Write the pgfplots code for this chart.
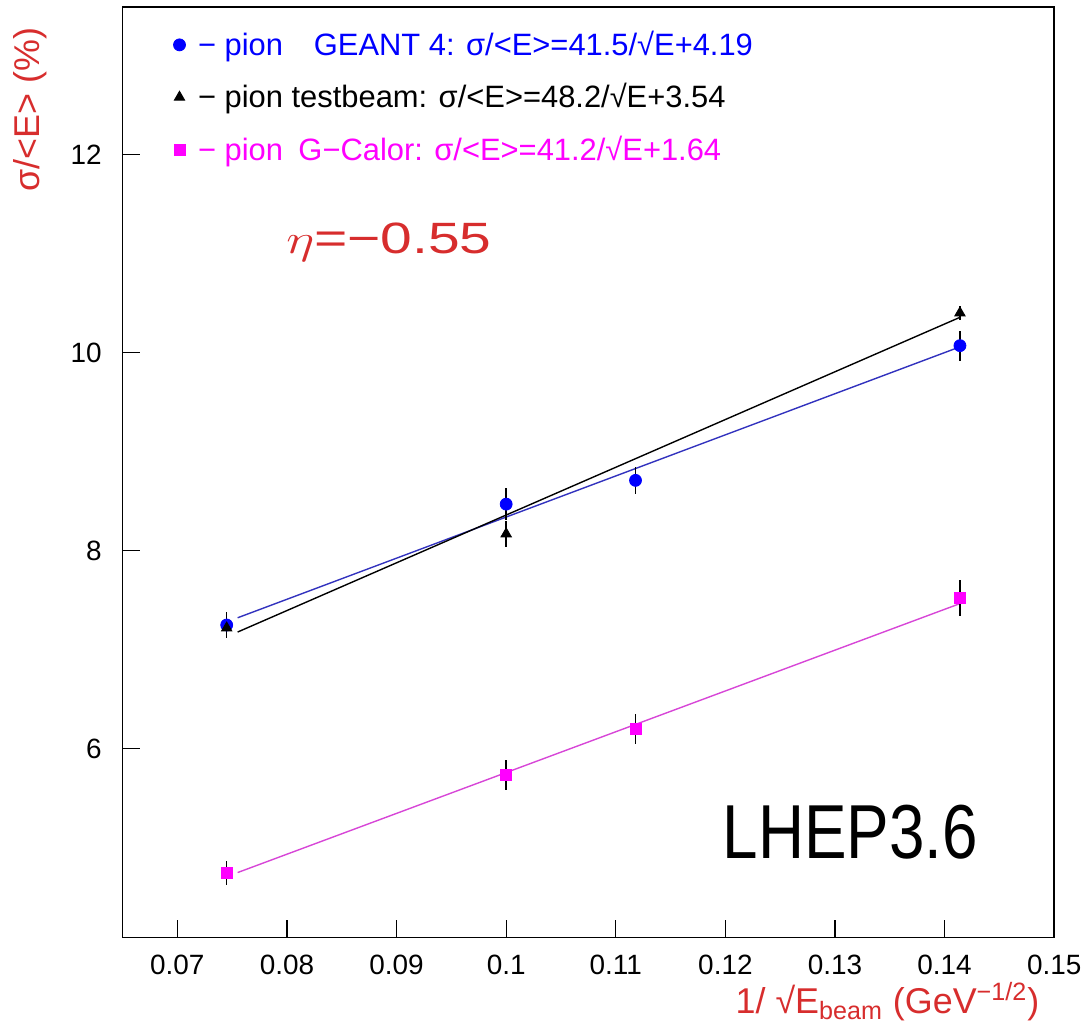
\documentclass[border=0pt]{standalone}
\usepackage{pgfplots}
\pgfplotsset{compat=1.18}
\usepackage{fontspec}
\setmainfont{Liberation Sans}
\definecolor{myred}{RGB}{215,45,45}
\definecolor{fitblue}{RGB}{50,50,190}
\definecolor{mymag}{RGB}{255,0,255}
\definecolor{fitmag}{RGB}{215,70,215}
\begin{document}
\begin{tikzpicture}
\begin{axis}[
  scale only axis, width=467.5pt, height=467pt,
  xmin=0.065, xmax=0.15, ymin=4.094, ymax=13.489,
  axis line style={line width=0.75pt},
  tick align=inside, tick pos=left,
  xtick={0.07,0.08,0.09,0.1,0.11,0.12,0.13,0.14,0.15},
  xticklabels={0.07,0.08,0.09,0.1,0.11,0.12,0.13,0.14,0.15},
  ytick={6,8,10,12},
  major tick length=9pt,
  tick style={black, line width=0.6pt},
  ticklabel style={font=\fontsize{14}{16}\selectfont},
  /pgf/number format/assume math mode=true,
  xticklabel style={yshift=-5pt},
  yticklabel style={xshift=-7pt},
  xlabel={1/ √E\textsubscript{beam} (GeV\textsuperscript{−1/2})},
  xlabel style={at={(axis description cs:1,0)}, anchor=east, xshift=-4pt, yshift=-32pt, text=myred, font=\fontsize{18}{20}\selectfont},
  ylabel={σ/<E> (\%)},
  ylabel style={at={(axis description cs:-0.0995,0.89)}, anchor=center, text=myred, font=\fontsize{18}{20}\selectfont},
  legend style={at={(axis description cs:0.05,0.983)}, anchor=north west, draw=none, fill=none,
    font=\fontsize{15.5}{17}\selectfont, row sep=8.5pt, inner sep=2pt},
  legend cell align=left,
  clip=false,
]
% fit lines
\addplot[fitblue, line width=0.7pt, forget plot] coordinates {(0.0755,7.323) (0.1414,10.058)};
\addplot[black, line width=0.7pt, forget plot] coordinates {(0.0755,7.179) (0.1414,10.356)};
\addplot[fitmag, line width=0.7pt, forget plot] coordinates {(0.0755,4.751) (0.1414,7.466)};
% data
\addplot[only marks, mark=*, mark size=3pt, color=blue,
  error bars/.cd, y dir=both, y explicit, error mark=none, error bar style={black, line width=0.8pt}]
  coordinates {(0.0745,7.25) +- (0,0.13) (0.1,8.47) +- (0,0.16) (0.1118,8.71) +- (0,0.135) (0.1414,10.07) +- (0,0.15)};
\addlegendentry{\textcolor{blue}{\ − pion\quad GEANT 4: σ/<E>=41.5/√E+4.19}}
\addplot[only marks, mark=triangle*, mark size=3pt, color=black,
  error bars/.cd, y dir=both, y explicit, error mark=none, error bar style={black, line width=0.8pt}]
  coordinates {(0.0745,7.22) +- (0,0.08) (0.1,8.17) +- (0,0.13) (0.1414,10.40) +- (0,0.07)};
\addlegendentry{\textcolor{black}{\ − pion testbeam: σ/<E>=48.2/√E+3.54}}
\addplot[only marks, mark=square*, mark size=2.8pt, color=mymag,
  error bars/.cd, y dir=both, y explicit, error mark=none, error bar style={black, line width=0.8pt}]
  coordinates {(0.0745,4.75) +- (0,0.12) (0.1,5.735) +- (0,0.15) (0.1118,6.20) +- (0,0.15) (0.1414,7.52) +- (0,0.18)};
\addlegendentry{\textcolor{mymag}{\ − pion\enspace G−Calor: σ/<E>=41.2/√E+1.64}}
\node[anchor=west, text=myred, font=\fontsize{22}{24}\selectfont, xscale=1.3] at (axis cs:0.0791,11.11) {$\eta$=−0.55};
\node[anchor=west, font=\fontsize{32}{36}\selectfont, yscale=1.2] at (axis cs:0.1191,5.154) {LHEP3.6};
\end{axis}
\path ([shift={(-61.5pt,-40pt)}]current axis.south west) rectangle ([shift={(15pt,3.5pt)}]current axis.north east);
\end{tikzpicture}
\end{document}
